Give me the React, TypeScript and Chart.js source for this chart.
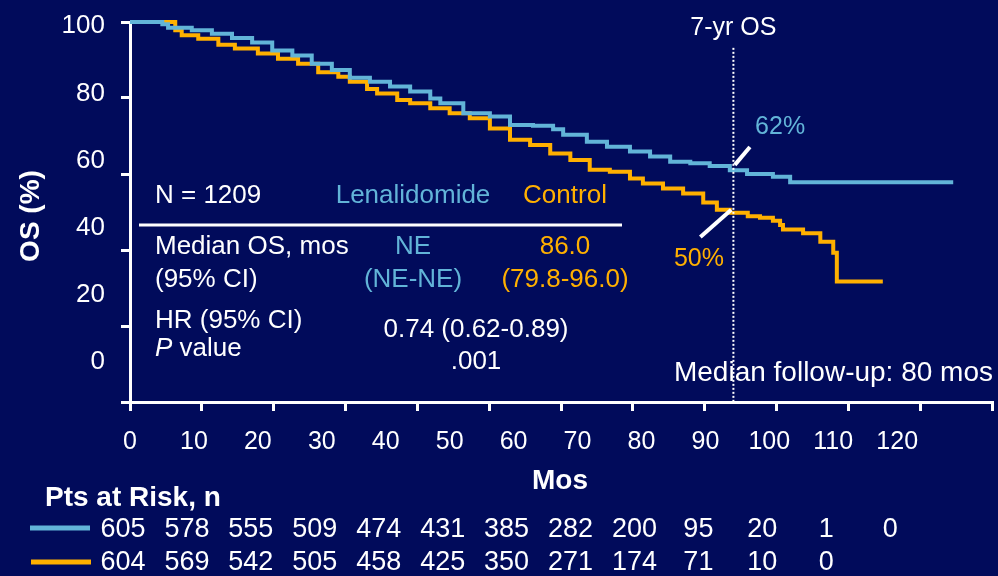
import React, { useEffect, useRef } from "react";
import { Chart, registerables } from "chart.js";

Chart.register(...registerables);

// Palette and type
const BG = "#010b5b";
const LENA_COLOR = "#62b4d8";
const CTRL_COLOR = "#ffb000";
const WHITE = "#ffffff";
const FONT = "'Liberation Sans', Arial, Helvetica, sans-serif";

// Kaplan-Meier overall survival, lenalidomide arm (months, OS %)
const lenaMonths = [0, 4.5, 5.3, 8.6, 11.4, 14.2, 17.0, 19.8, 22.6, 25.3, 28.1, 30.6, 33.4, 36.2, 39.0, 41.8, 43.2, 46.4, 50.1, 52.9, 56.1, 58.9, 60.3, 63.6, 66.4, 69.6, 72.4, 75.2, 78.0, 80.7, 83.5, 85.9, 89.5, 91.9, 93.3, 114.6];
const lenaOS = [100, 100, 99.4, 98.5, 97.8, 96.9, 95.8, 94.6, 92.5, 91.2, 89.0, 87.4, 85.3, 84.3, 83.0, 81.7, 79.9, 78.6, 76.0, 75.1, 72.9, 72.7, 71.8, 70.3, 68.5, 67.2, 65.9, 64.6, 63.2, 62.8, 62.1, 61.0, 60.0, 59.3, 57.8, 57.8];

// Kaplan-Meier overall survival, control arm (months, OS %)
const ctrlMonths = [0, 6.3, 7.2, 9.5, 12.3, 14.6, 17.8, 20.6, 23.4, 26.2, 29.0, 30.6, 33.0, 34.4, 37.2, 39.0, 41.8, 44.5, 47.3, 50.1, 52.9, 55.7, 58.5, 61.3, 64.0, 66.8, 69.6, 71.4, 74.2, 77.0, 79.8, 81.7, 83.5, 86.0, 87.7, 89.5, 90.5, 90.9, 93.7, 96.1, 97.9, 98.4, 102.6, 104.8];
const ctrlOS = [100, 100, 97.8, 96.5, 95.6, 94.0, 93.0, 91.7, 90.3, 89.0, 86.8, 85.6, 84.3, 82.4, 81.2, 79.5, 78.6, 77.3, 76.0, 74.7, 72.0, 69.0, 67.6, 65.4, 63.7, 61.1, 60.6, 58.8, 57.5, 56.2, 54.9, 52.5, 50.6, 49.8, 48.9, 48.5, 47.7, 46.6, 45.4, 44.4, 42.2, 39.3, 31.7, 31.7];

// Axis ticks
const xTickValues = [0, 10, 20, 30, 40, 50, 60, 70, 80, 90, 100, 110, 120];
const yTickValues = [0, 20, 40, 60, 80, 100];

// Patients at risk
const riskMonths = [0, 10, 20, 30, 40, 50, 60, 70, 80, 90, 100, 110, 120];
const lenaAtRisk = [605, 578, 555, 509, 474, 431, 385, 282, 200, 95, 20, 1, 0];
const ctrlAtRisk = [604, 569, 542, 505, 458, 425, 350, 271, 174, 71, 10, 0];

// 7-year landmark
const landmarkMonth = 84;
const lenaLandmarkOS = 62;
const ctrlLandmarkOS = 50;

// Summary statistics
const nTotal = "N = 1209";
const armNames = ["Lenalidomide", "Control"];
const medianOS = ["NE", "86.0"];
const medianCI = ["(NE-NE)", "(79.8-96.0)"];
const hazardRatio = "0.74 (0.62-0.89)";
const pValue = ".001";
const followUpNote = "Median follow-up: 80 mos";

// Tick labels sit on a slightly compressed grid relative to the tick marks
const X_LABEL_FACTOR = 0.89;
const Y_LABEL_FACTOR = 0.884;
const Y_LABEL_OFFSET = 10.5;

type TextOpts = {
  size?: number;
  color?: string;
  align?: CanvasTextAlign;
  bold?: boolean;
  italic?: boolean;
};

function drawText(ctx: CanvasRenderingContext2D, s: string, x: number, y: number, o: TextOpts = {}) {
  ctx.save();
  ctx.font = `${o.italic ? "italic " : ""}${o.bold ? "bold " : ""}${o.size ?? 26}px ${FONT}`;
  ctx.fillStyle = o.color ?? WHITE;
  ctx.textAlign = o.align ?? "left";
  ctx.textBaseline = "middle";
  ctx.fillText(s, x, y);
  ctx.restore();
}

function line(ctx: CanvasRenderingContext2D, x1: number, y1: number, x2: number, y2: number, w: number, color: string, dash: number[] = []) {
  ctx.save();
  ctx.strokeStyle = color;
  ctx.lineWidth = w;
  ctx.setLineDash(dash);
  ctx.beginPath();
  ctx.moveTo(x1, y1);
  ctx.lineTo(x2, y2);
  ctx.stroke();
  ctx.restore();
}

const kmOverlay = {
  id: "kmOverlay",
  beforeDraw(chart: any) {
    const ctx: CanvasRenderingContext2D = chart.ctx;
    ctx.save();
    ctx.fillStyle = BG;
    ctx.fillRect(0, 0, chart.width, chart.height);
    ctx.restore();
  },
  afterDatasetsDraw(chart: any) {
    const ctx: CanvasRenderingContext2D = chart.ctx;
    const xs = chart.scales.x;
    const ys = chart.scales.y;
    const area = chart.chartArea;
    const px = (v: number) => xs.getPixelForValue(v);
    const py = (v: number) => ys.getPixelForValue(v);

    // y tick labels
    yTickValues.forEach((v) => {
      drawText(ctx, String(v), area.left - 25, py(Y_LABEL_OFFSET + Y_LABEL_FACTOR * v), { size: 26, align: "right" });
    });
    // x tick labels
    xTickValues.forEach((v) => {
      drawText(ctx, String(v), px(X_LABEL_FACTOR * v), area.bottom + 40, { size: 25, align: "center" });
    });

    // axis titles
    drawText(ctx, "Mos", 560, area.bottom + 79, { size: 28, bold: true, align: "center" });
    ctx.save();
    ctx.translate(31, 216);
    ctx.rotate(-Math.PI / 2);
    drawText(ctx, "OS (%)", 0, 0, { size: 28, bold: true, align: "center" });
    ctx.restore();

    // 7-year landmark
    line(ctx, px(landmarkMonth), py(93.2), px(landmarkMonth), area.bottom, 2, WHITE, [2, 2]);
    drawText(ctx, "7-yr OS", px(landmarkMonth), 28, { size: 25, align: "center" });

    line(ctx, px(landmarkMonth + 0.2), py(lenaLandmarkOS + 0.4), px(86.3), py(67.1), 4, WHITE);
    drawText(ctx, `${lenaLandmarkOS}%`, px(90.5), py(72.4), { size: 25, color: LENA_COLOR, align: "center" });

    line(ctx, px(79.4), py(43.4), px(landmarkMonth - 0.3), py(ctrlLandmarkOS + 0.6), 4, WHITE);
    drawText(ctx, `${ctrlLandmarkOS}%`, px(79.2), py(37.6), { size: 25, color: CTRL_COLOR, align: "center" });

    // summary table
    const c0 = 155;
    const cL = 413;
    const cC = 565;
    const cHR = 476;
    drawText(ctx, nTotal, c0, 196, { size: 26 });
    drawText(ctx, armNames[0], cL, 196, { size: 26, color: LENA_COLOR, align: "center" });
    drawText(ctx, armNames[1], cC, 196, { size: 26, color: CTRL_COLOR, align: "center" });
    line(ctx, 139, 225, 622, 225, 3, WHITE);
    drawText(ctx, "Median OS, mos", c0, 247, { size: 26 });
    drawText(ctx, medianOS[0], cL, 247, { size: 26, color: LENA_COLOR, align: "center" });
    drawText(ctx, medianOS[1], cC, 247, { size: 26, color: CTRL_COLOR, align: "center" });
    drawText(ctx, "(95% CI)", c0, 280, { size: 26 });
    drawText(ctx, medianCI[0], cL, 280, { size: 26, color: LENA_COLOR, align: "center" });
    drawText(ctx, medianCI[1], cC, 280, { size: 26, color: CTRL_COLOR, align: "center" });
    drawText(ctx, "HR (95% CI)", c0, 321, { size: 26 });
    drawText(ctx, hazardRatio, cHR, 330, { size: 26, align: "center" });
    drawText(ctx, "P", c0, 349, { size: 26, italic: true });
    ctx.save();
    ctx.font = `italic 26px ${FONT}`;
    const pw = ctx.measureText("P").width;
    ctx.restore();
    drawText(ctx, " value", c0 + pw, 349, { size: 26 });
    drawText(ctx, pValue, cHR, 362, { size: 26, align: "center" });

    drawText(ctx, followUpNote, 993, 373, { size: 28, align: "right" });

    // patients at risk
    drawText(ctx, "Pts at Risk, n", 45, 498, { size: 28, bold: true });
    line(ctx, 30, 528, 90, 528, 5, LENA_COLOR);
    line(ctx, 31, 562, 91, 562, 5, CTRL_COLOR);
    lenaAtRisk.forEach((n, i) => {
      drawText(ctx, String(n), px(X_LABEL_FACTOR * riskMonths[i]) - 7, 530, { size: 27, align: "center" });
    });
    ctrlAtRisk.forEach((n, i) => {
      drawText(ctx, String(n), px(X_LABEL_FACTOR * riskMonths[i]) - 7, 563, { size: 27, align: "center" });
    });
  },
};

export default function App() {
  const canvasRef = useRef<HTMLCanvasElement | null>(null);

  useEffect(() => {
    const canvas = canvasRef.current;
    if (!canvas) return;
    const axisGrid = {
      drawOnChartArea: false,
      drawTicks: true,
      tickLength: 9,
      color: WHITE,
      lineWidth: 3,
    };
    const chart = new Chart(canvas, {
      type: "line",
      data: {
        datasets: [
          {
            label: armNames[0],
            data: lenaMonths.map((m, i) => ({ x: m, y: lenaOS[i] })),
            borderColor: LENA_COLOR,
            borderWidth: 4,
            stepped: "after",
            pointRadius: 0,
            fill: false,
            clip: false,
          },
          {
            label: armNames[1],
            data: ctrlMonths.map((m, i) => ({ x: m, y: ctrlOS[i] })),
            borderColor: CTRL_COLOR,
            borderWidth: 4,
            stepped: "after",
            pointRadius: 0,
            fill: false,
            clip: false,
          },
        ],
      },
      options: {
        animation: false,
        responsive: false,
        layout: { padding: { top: 22, right: 6, left: 0, bottom: 0 } },
        plugins: { legend: { display: false }, tooltip: { enabled: false } },
        scales: {
          x: {
            type: "linear",
            min: 0,
            max: 120,
            ticks: { display: false, stepSize: 10 },
            grid: axisGrid,
            border: { color: WHITE, width: 3 },
            afterFit: (s: any) => {
              s.height = 174;
            },
          },
          y: {
            type: "linear",
            min: 0,
            max: 100,
            ticks: { display: false, stepSize: 20 },
            grid: axisGrid,
            border: { color: WHITE, width: 3 },
            afterFit: (s: any) => {
              s.width = 130;
            },
          },
        },
      },
      plugins: [kmOverlay],
    } as any);
    return () => chart.destroy();
  }, []);

  return (
    <div style={{ position: "fixed", left: 0, top: 0, width: 998, height: 576, background: BG }}>
      <canvas ref={canvasRef} width={998} height={576} style={{ display: "block" }} />
    </div>
  );
}
